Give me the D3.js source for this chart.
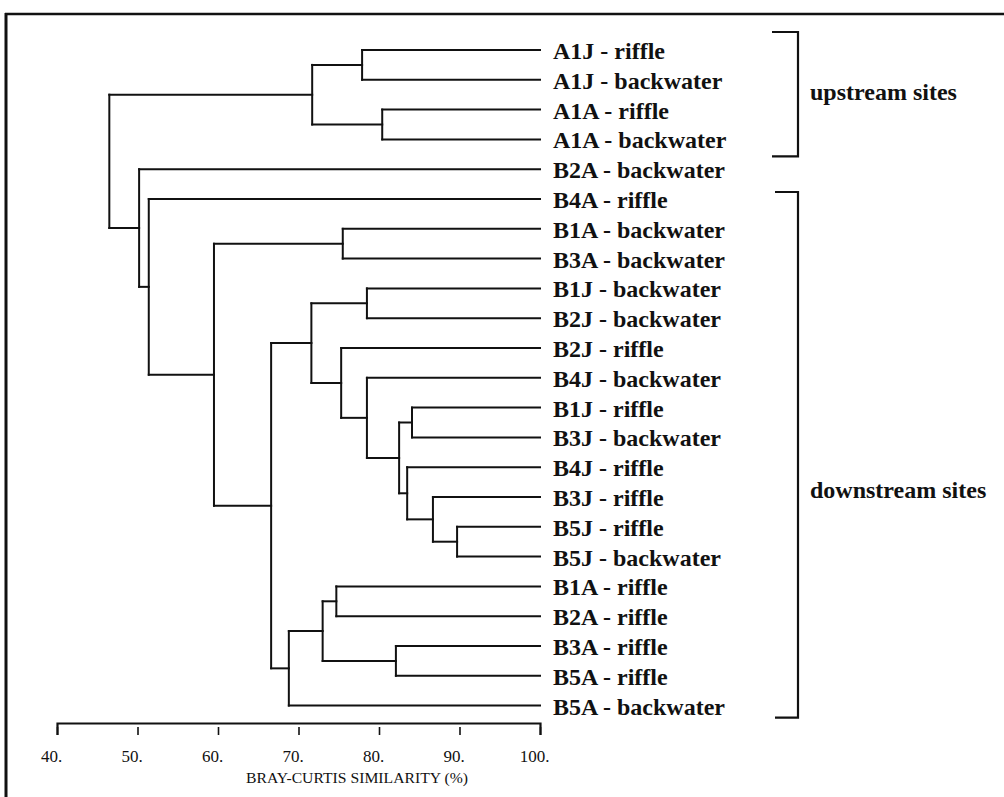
<!DOCTYPE html>
<html>
<head>
<meta charset="utf-8">
<script src="https://cdn.jsdelivr.net/npm/d3@7"></script>
<style>
  html, body { margin: 0; padding: 0; background: #fff; }
  svg { display: block; }
</style>
</head>
<body>
<svg id="chart" width="1004" height="797"></svg>
<script>
// ---------- DATA ----------
const leafLabels = [
  "A1J - riffle", "A1J - backwater", "A1A - riffle", "A1A - backwater",
  "B2A - backwater", "B4A - riffle", "B1A - backwater", "B3A - backwater",
  "B1J - backwater", "B2J - backwater", "B2J - riffle", "B4J - backwater",
  "B1J - riffle", "B3J - backwater", "B4J - riffle", "B3J - riffle",
  "B5J - riffle", "B5J - backwater", "B1A - riffle", "B2A - riffle",
  "B3A - riffle", "B5A - riffle", "B5A - backwater"
];

// Agglomeration steps: id, its two children, similarity (%) at which they join
const mergeIds = ["n1","n2","n3","n4","n5","n6","n7","n8","n9","n10","n11",
                  "n12","n13","n14","n15","n16","n17","n18","n19","n20","n21","n22"];
const mergeChildren = [
  ["A1J - riffle", "A1J - backwater"],
  ["A1A - riffle", "A1A - backwater"],
  ["n1", "n2"],
  ["B1A - backwater", "B3A - backwater"],
  ["B1J - backwater", "B2J - backwater"],
  ["B5J - riffle", "B5J - backwater"],
  ["B3J - riffle", "n6"],
  ["B4J - riffle", "n7"],
  ["B1J - riffle", "B3J - backwater"],
  ["n9", "n8"],
  ["B4J - backwater", "n10"],
  ["B2J - riffle", "n11"],
  ["n5", "n12"],
  ["B1A - riffle", "B2A - riffle"],
  ["B3A - riffle", "B5A - riffle"],
  ["n14", "n15"],
  ["n16", "B5A - backwater"],
  ["n13", "n17"],
  ["n4", "n18"],
  ["B4A - riffle", "n19"],
  ["B2A - backwater", "n20"],
  ["n3", "n21"]
];
const mergeSimilarity = [77.9, 80.4, 71.7, 75.5, 78.5, 89.7, 86.7, 83.5, 84.1, 82.5,
                         78.5, 75.3, 71.6, 74.7, 82.1, 73.0, 68.8, 66.6, 59.5, 51.4, 50.2, 46.5];

const tickValues = [40, 50, 60, 70, 80, 90, 100];
const tickLabels = ["40.", "50.", "60.", "70.", "80.", "90.", "100."];
const axisTitle = "BRAY-CURTIS SIMILARITY (%)";

const groupLabels = ["upstream sites", "downstream sites"];
const groupFirstLeaf = ["A1J - riffle", "B4A - riffle"];
const groupLastLeaf = ["A1A - backwater", "B5A - backwater"];

// ---------- BUILD TREE ----------
const nodeMap = new Map();
leafLabels.forEach(l => nodeMap.set(l, { name: l, sim: 100 }));
mergeIds.forEach((id, i) => {
  nodeMap.set(id, { name: id, sim: mergeSimilarity[i],
                    children: mergeChildren[i].map(c => nodeMap.get(c)) });
});
const root = d3.hierarchy(nodeMap.get(mergeIds[mergeIds.length - 1]));

// ---------- SCALES ----------
const x = d3.scaleLinear().domain([40, 100]).range([57, 540]);
const y = d3.scalePoint().domain(leafLabels).range([50, 705.6]);

root.eachAfter(n => {
  n.px = x(n.data.sim);
  n.py = n.children ? d3.mean(n.children, c => c.py) : y(n.data.name);
});

const svg = d3.select("#chart");
const serif = "'Liberation Serif', 'Times New Roman', Times, serif";

// ---------- FRAME ----------
svg.append("line").attr("x1", 6).attr("x2", 6).attr("y1", 13).attr("y2", 797)
  .attr("stroke", "#111").attr("stroke-width", 3);
svg.append("line").attr("x1", 5).attr("x2", 1004).attr("y1", 14).attr("y2", 14)
  .attr("stroke", "#111").attr("stroke-width", 2.5);

// ---------- DENDROGRAM ----------
const g = svg.append("g").attr("fill", "none").attr("stroke", "#111")
  .attr("stroke-width", 2).attr("stroke-linecap", "square");

root.descendants().filter(n => n.children).forEach(n => {
  const ys = n.children.map(c => c.py);
  g.append("line").attr("x1", n.px).attr("x2", n.px)
    .attr("y1", d3.min(ys)).attr("y2", d3.max(ys));
  n.children.forEach(c => {
    g.append("line").attr("x1", n.px).attr("x2", c.px)
      .attr("y1", c.py).attr("y2", c.py);
  });
});

// ---------- LEAF LABELS ----------
svg.append("g").selectAll("text").data(root.leaves()).join("text")
  .attr("x", 553).attr("y", d => d.py + 9)
  .attr("font-family", serif).attr("font-size", 24).attr("font-weight", "bold")
  .attr("fill", "#111")
  .text(d => d.data.name);

// ---------- AXIS ----------
const axis = d3.axisBottom(x).tickValues(tickValues)
  .tickFormat((d, i) => tickLabels[i]).tickSizeOuter(0).tickSize(12);
const ax = svg.append("g").attr("transform", "translate(0,723)").call(axis);
ax.select(".domain").attr("stroke", "#111").attr("stroke-width", 2.2);
ax.selectAll(".tick line").attr("stroke", "#111").attr("stroke-width", 1.6)
  .attr("y1", 4).attr("y2", 12);
ax.selectAll(".tick text").attr("fill", "#111").attr("font-family", serif)
  .attr("font-size", 17).attr("y", 39).attr("dy", 0).attr("dx", -6);

svg.append("text").attr("x", 246).attr("y", 783)
  .attr("font-family", serif).attr("font-size", 15).attr("fill", "#111")
  .attr("textLength", 222).attr("lengthAdjust", "spacingAndGlyphs")
  .text(axisTitle);

// ---------- GROUP BRACKETS ----------
const bracketTop = [y(groupFirstLeaf[0]) - 18, y(groupFirstLeaf[1]) - 7];
const bracketBottom = [y(groupLastLeaf[0]) + 17, y(groupLastLeaf[1]) + 12];
const bracketLeft = [772, 775];
const labelBaseline = [100, 498];
groupLabels.forEach((lab, i) => {
  const bx = 798;
  svg.append("path")
    .attr("d", `M${bracketLeft[i]},${bracketTop[i]}H${bx}V${bracketBottom[i]}H${bracketLeft[i]}`)
    .attr("fill", "none").attr("stroke", "#111").attr("stroke-width", 2.2);
  svg.append("text").attr("x", 810).attr("y", labelBaseline[i])
    .attr("font-family", serif).attr("font-size", 24).attr("font-weight", "bold")
    .attr("fill", "#111").text(lab);
});
</script>
</body>
</html>
